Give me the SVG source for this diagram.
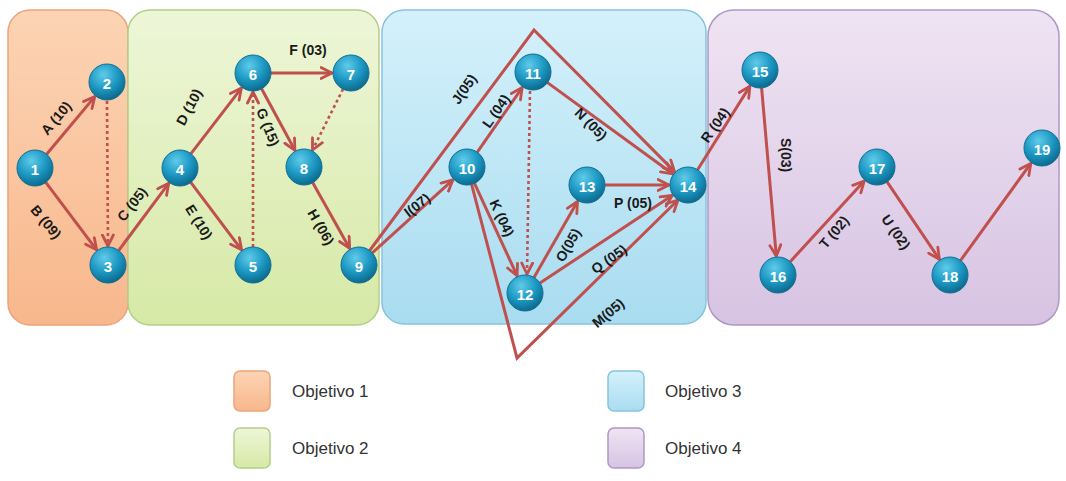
<svg xmlns="http://www.w3.org/2000/svg" width="1066" height="481" viewBox="0 0 1066 481">
<defs>
<linearGradient id="gO" x1="0" y1="0" x2="0" y2="1"><stop offset="0" stop-color="#fcd4b4"/><stop offset="1" stop-color="#f8b78c"/></linearGradient>
<linearGradient id="gG" x1="0" y1="0" x2="0" y2="1"><stop offset="0" stop-color="#eef6d8"/><stop offset="1" stop-color="#d6e9a6"/></linearGradient>
<linearGradient id="gB" x1="0" y1="0" x2="0" y2="1"><stop offset="0" stop-color="#d4f1fb"/><stop offset="1" stop-color="#a9dcf0"/></linearGradient>
<linearGradient id="gP" x1="0" y1="0" x2="0" y2="1"><stop offset="0" stop-color="#efe4f3"/><stop offset="1" stop-color="#d7c3e2"/></linearGradient>
<radialGradient id="gN" cx="0.4" cy="0.3" r="0.75"><stop offset="0" stop-color="#5fcbea"/><stop offset="0.55" stop-color="#1b97c2"/><stop offset="1" stop-color="#0b6385"/></radialGradient>
<marker id="ah" viewBox="0 0 14 14" refX="12.5" refY="7" markerWidth="14" markerHeight="14" markerUnits="userSpaceOnUse" orient="auto">
<path d="M1.5,1.5 L12.5,7 L1.5,12.5" fill="none" stroke="#c0504d" stroke-width="2.8" stroke-linecap="round" stroke-linejoin="round"/>
</marker>
<style>
.reg{stroke-width:1.5}
.o{fill:url(#gO);stroke:#eba47a}
.g{fill:url(#gG);stroke:#b3cf87}
.b{fill:url(#gB);stroke:#86c4da}
.p{fill:url(#gP);stroke:#ad98c6}
.e{fill:none;stroke:#c0504d;stroke-width:3;marker-end:url(#ah)}
.d{fill:none;stroke:#c0504d;stroke-width:2.6;stroke-dasharray:3 3;marker-end:url(#ah)}
.n circle{fill:url(#gN);stroke:#0e6f94;stroke-width:1}
.n text{fill:#ffffff;font-family:"Liberation Sans",Arial,sans-serif;font-weight:bold;font-size:15px;text-anchor:middle;dominant-baseline:central}
.l{fill:#1a1a1a;font-family:"Liberation Sans",Arial,sans-serif;font-weight:bold;font-size:14px;text-anchor:middle;dominant-baseline:central}
.lg{fill:#333333;font-family:"Liberation Sans",Arial,sans-serif;font-size:17px}
</style>
</defs>
<rect width="1066" height="481" fill="#ffffff"/>
<g id="regions">
<rect id="obj1" class="reg o" x="8" y="10" width="120" height="315" rx="22"/>
<rect id="obj2" class="reg g" x="128" y="10" width="251" height="315" rx="22"/>
<rect id="obj3" class="reg b" x="382" y="10" width="324" height="314" rx="22"/>
<rect id="obj4" class="reg p" x="708" y="10" width="351" height="315" rx="26"/>
</g>
<g id="connectors">
<path class="e" d="M46.6,154.2 L94.8,96.6"/>
<path class="e" d="M45.8,182.4 L96.6,249.8"/>
<path class="d" d="M107,101 L108,246"/>
<path class="e" d="M118.7,250.5 L168.7,183.3"/>
<path class="e" d="M191,153.7 L241.4,88.1"/>
<path class="e" d="M190.8,182.4 L241.6,249.8"/>
<path class="d" d="M253,247 L253,92"/>
<path class="e" d="M271,73 L332,73"/>
<path class="e" d="M261.6,88.8 L294.9,150.3"/>
<path class="d" d="M343,89.1 L312.5,150"/>
<path class="e" d="M312.8,182.7 L349.7,248.4"/>
<path class="e" d="M372.3,252.9 L452.9,179.8"/>
<path class="e" d="M369.7,250.5 L534,30 L674.6,171.6"/>
<path class="e" d="M477.3,152.2 L522.2,87.6"/>
<path class="e" d="M474.5,183.3 L517.1,275.7"/>
<path class="d" d="M530,91 L527,274"/>
<path class="e" d="M547.5,82.6 L672.6,173.8"/>
<path class="e" d="M605,185 L669,185"/>
<path class="e" d="M534,277.4 L577.5,201.5"/>
<path class="e" d="M540,283 L672.2,195.5"/>
<path class="e" d="M471.6,184.4 L517,358 L678,200"/>
<path class="e" d="M697.6,169.8 L749.9,86.1"/>
<path class="e" d="M761.6,87.9 L776.3,256.1"/>
<path class="e" d="M790.2,261.7 L864.2,181"/>
<path class="e" d="M887.1,181.9 L939.4,259.3"/>
<path class="e" d="M960.6,260.4 L1030.8,163.4"/>
</g>
<g id="edge-labels">
<text class="l" transform="translate(56,118) rotate(-50)">A (10)</text>
<text class="l" transform="translate(46,222) rotate(50)">B (09)</text>
<text class="l" transform="translate(132,204) rotate(-52)">C (05)</text>
<text class="l" transform="translate(189,107) rotate(-62)">D (10)</text>
<text class="l" transform="translate(199,222) rotate(58)">E (10)</text>
<text class="l" transform="translate(308,50)">F (03)</text>
<text class="l" transform="translate(268,127) rotate(68)">G (15)</text>
<text class="l" transform="translate(321,227) rotate(60)">H (06)</text>
<text class="l" transform="translate(417,205) rotate(-38)">I(07)</text>
<text class="l" transform="translate(464,89) rotate(-55)">J(05)</text>
<text class="l" transform="translate(496,111) rotate(-55)">L (04)</text>
<text class="l" transform="translate(502,218) rotate(65)">K (04)</text>
<text class="l" transform="translate(591,124) rotate(45)">N (05)</text>
<text class="l" transform="translate(633,203)">P (05)</text>
<text class="l" transform="translate(568,245) rotate(-60)">O(05)</text>
<text class="l" transform="translate(609,259) rotate(-35)">Q (05)</text>
<text class="l" transform="translate(608,313) rotate(-40)">M(05)</text>
<text class="l" transform="translate(715,125) rotate(-55)">R (04)</text>
<text class="l" transform="translate(786,155) rotate(90)">S(03)</text>
<text class="l" transform="translate(834,232) rotate(-50)">T (02)</text>
<text class="l" transform="translate(896,232) rotate(55)">U (02)</text>
</g>
<g id="n1" class="n"><circle cx="35" cy="168" r="18"/><text x="35" y="169">1</text></g>
<g id="n2" class="n"><circle cx="107" cy="82" r="18"/><text x="107" y="83">2</text></g>
<g id="n3" class="n"><circle cx="108" cy="265" r="18"/><text x="108" y="266">3</text></g>
<g id="n4" class="n"><circle cx="180" cy="168" r="18"/><text x="180" y="169">4</text></g>
<g id="n5" class="n"><circle cx="253" cy="265" r="18"/><text x="253" y="266">5</text></g>
<g id="n6" class="n"><circle cx="253" cy="73" r="18"/><text x="253" y="74">6</text></g>
<g id="n7" class="n"><circle cx="351" cy="73" r="18"/><text x="351" y="74">7</text></g>
<g id="n8" class="n"><circle cx="304" cy="167" r="18"/><text x="304" y="168">8</text></g>
<g id="n9" class="n"><circle cx="359" cy="265" r="18"/><text x="359" y="266">9</text></g>
<g id="n10" class="n"><circle cx="467" cy="167" r="18"/><text x="467" y="168">10</text></g>
<g id="n11" class="n"><circle cx="533" cy="72" r="18"/><text x="533" y="73">11</text></g>
<g id="n12" class="n"><circle cx="525" cy="293" r="18"/><text x="525" y="294">12</text></g>
<g id="n13" class="n"><circle cx="587" cy="185" r="18"/><text x="587" y="186">13</text></g>
<g id="n14" class="n"><circle cx="688" cy="185" r="18"/><text x="688" y="186">14</text></g>
<g id="n15" class="n"><circle cx="760" cy="70" r="18"/><text x="760" y="71">15</text></g>
<g id="n16" class="n"><circle cx="778" cy="275" r="18"/><text x="778" y="276">16</text></g>
<g id="n17" class="n"><circle cx="877" cy="167" r="18"/><text x="877" y="168">17</text></g>
<g id="n18" class="n"><circle cx="950" cy="275" r="18"/><text x="950" y="276">18</text></g>
<g id="n19" class="n"><circle cx="1042" cy="148" r="18"/><text x="1042" y="149">19</text></g>
<g id="legend">
<g id="leg1"><rect class="reg o" x="234" y="371" width="36" height="40" rx="6"/><text class="lg" x="292" y="397">Objetivo 1</text></g>
<g id="leg2"><rect class="reg g" x="234" y="428" width="36" height="40" rx="6"/><text class="lg" x="292" y="454">Objetivo 2</text></g>
<g id="leg3"><rect class="reg b" x="608" y="371" width="36" height="40" rx="6"/><text class="lg" x="665" y="397">Objetivo 3</text></g>
<g id="leg4"><rect class="reg p" x="608" y="428" width="36" height="40" rx="6"/><text class="lg" x="665" y="454">Objetivo 4</text></g>
</g>
</svg>
